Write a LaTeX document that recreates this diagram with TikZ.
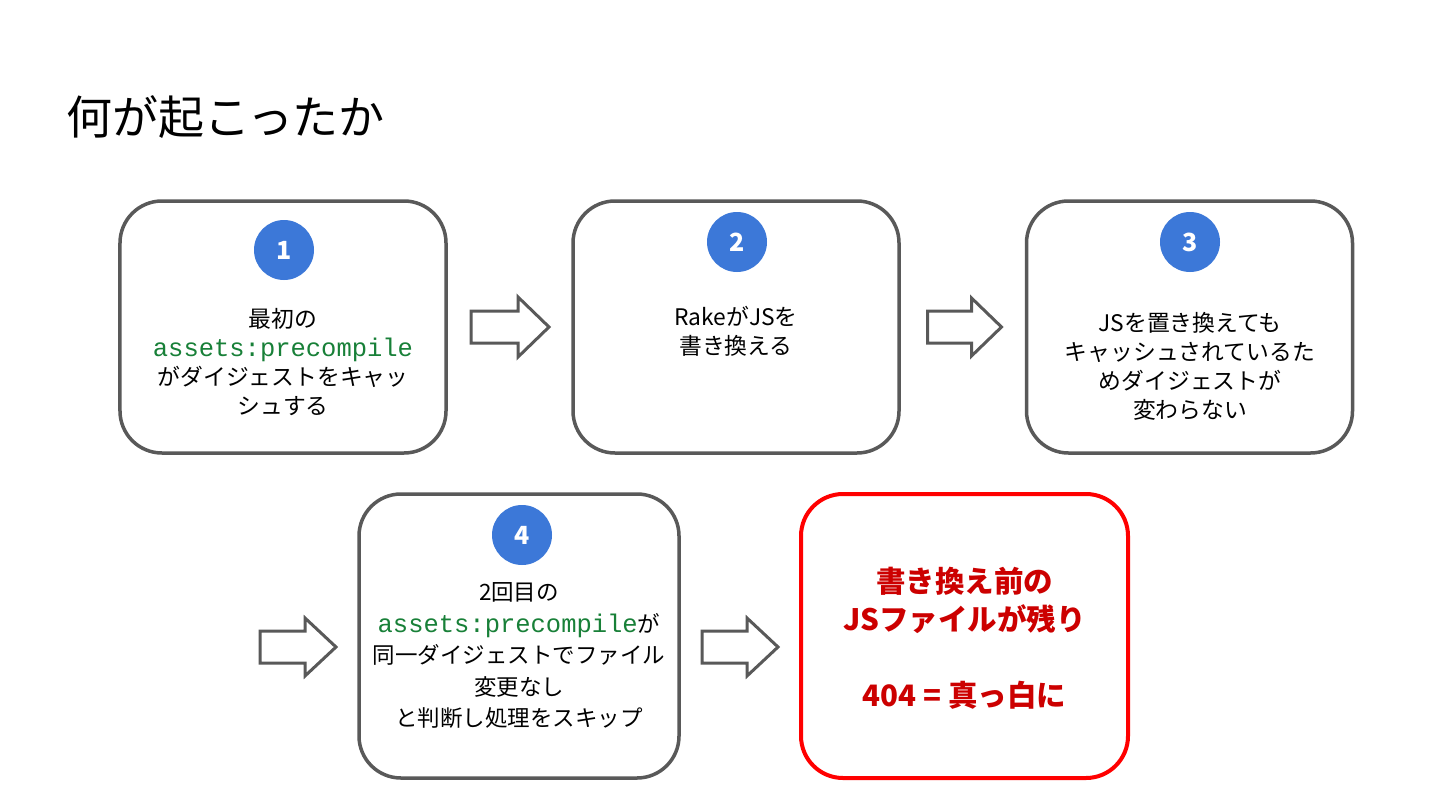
\documentclass[tikz,border=0pt]{standalone}
\usepackage{fontspec}
\setmainfont{Noto Sans CJK JP}
\setmonofont{Liberation Mono}
\definecolor{boxgray}{HTML}{595959}
\definecolor{numblue}{HTML}{3C78D8}
\definecolor{codegreen}{HTML}{188038}
\definecolor{alertred}{HTML}{FF0000}
\definecolor{textred}{HTML}{CC0000}
\newcommand{\code}[1]{{\fontsize{25.5bp}{28bp}\ttfamily\color{codegreen}#1}}
\begin{document}
\begin{tikzpicture}[x=1bp,y=-1bp,
  stepbox/.style={draw=boxgray, line width=3.5bp, rounded corners=42bp, fill=white,
    minimum width=326bp, minimum height=252bp, inner sep=0pt},
  redbox/.style={draw=alertred, line width=4bp, rounded corners=42bp, fill=white,
    minimum width=327bp, minimum height=284bp, inner sep=0pt},
  numcirc/.style={circle, fill=numblue, minimum size=60bp, inner sep=0pt,
    text=white, font=\fontsize{25bp}{28bp}\bfseries},
  bodytext/.style={align=center, inner sep=0pt, font=\fontsize{22.8bp}{29bp}\selectfont},
  blockarrow/.style={draw=boxgray, line width=3bp, fill=white, line join=miter}
]
\useasboundingbox (0,0) rectangle (1440,810);
\fill[white] (0,0) rectangle (1440,810);

% title
\node[anchor=west, inner sep=0pt, font=\fontsize{46bp}{50bp}\selectfont] (title) at (66,117) {何が起こったか};

% boxes
\node[stepbox] (b1) at (283,327) {};
\node[stepbox] (b2) at (736,327) {};
\node[stepbox] (b3) at (1189.5,327) {};
\node[stepbox, minimum width=320bp, minimum height=284bp] (b4) at (519,636) {};
\node[redbox] (b5) at (964.5,636) {};

% number circles
\node[numcirc] (n1) at (284,250) {1};
\node[numcirc] (n2) at (737,242) {2};
\node[numcirc] (n3) at (1190,242) {3};
\node[numcirc] (n4) at (522,535) {4};

% texts
\node[bodytext] (t1) at (283,362) {最初の\\\code{assets:precompile}\\がダイジェストをキャッ\\シュする};
\node[bodytext] (t2) at (736,331) {RakeがJSを\\書き換える};
\node[bodytext] (t3) at (1190,366) {JSを置き換えても\\キャッシュされているた\\めダイジェストが\\変わらない};
\node[bodytext, font=\fontsize{22.5bp}{31.5bp}\selectfont] (t4) at (519,656) {2回目の\\\code{assets:precompile}が\\同一ダイジェストでファイル\\変更なし\\と判断し処理をスキップ};
\node[align=center, inner sep=0pt, text=textred, font=\fontsize{29.5bp}{38bp}\bfseries] (t5) at (964.5,638) {書き換え前の\\JSファイルが残り\\[38bp]404\hspace{7bp}=\hspace{7bp}真っ白に};

% block arrows
\draw[blockarrow, shift={(510,327)}] (-39,-16) -- (8,-16) -- (8,-30) -- (39,0) -- (8,30) -- (8,16) -- (-39,16) -- cycle;
\draw[blockarrow, shift={(964.5,327)}] (-37,-16) -- (7,-16) -- (7,-29) -- (37,0) -- (7,29) -- (7,16) -- (-37,16) -- cycle;
\draw[blockarrow, shift={(298,647)}] (-38,-16) -- (7,-16) -- (7,-29) -- (38,0) -- (7,29) -- (7,16) -- (-38,16) -- cycle;
\draw[blockarrow, shift={(740,647)}] (-38,-16) -- (7,-16) -- (7,-29) -- (38,0) -- (7,29) -- (7,16) -- (-38,16) -- cycle;
\end{tikzpicture}
\end{document}
